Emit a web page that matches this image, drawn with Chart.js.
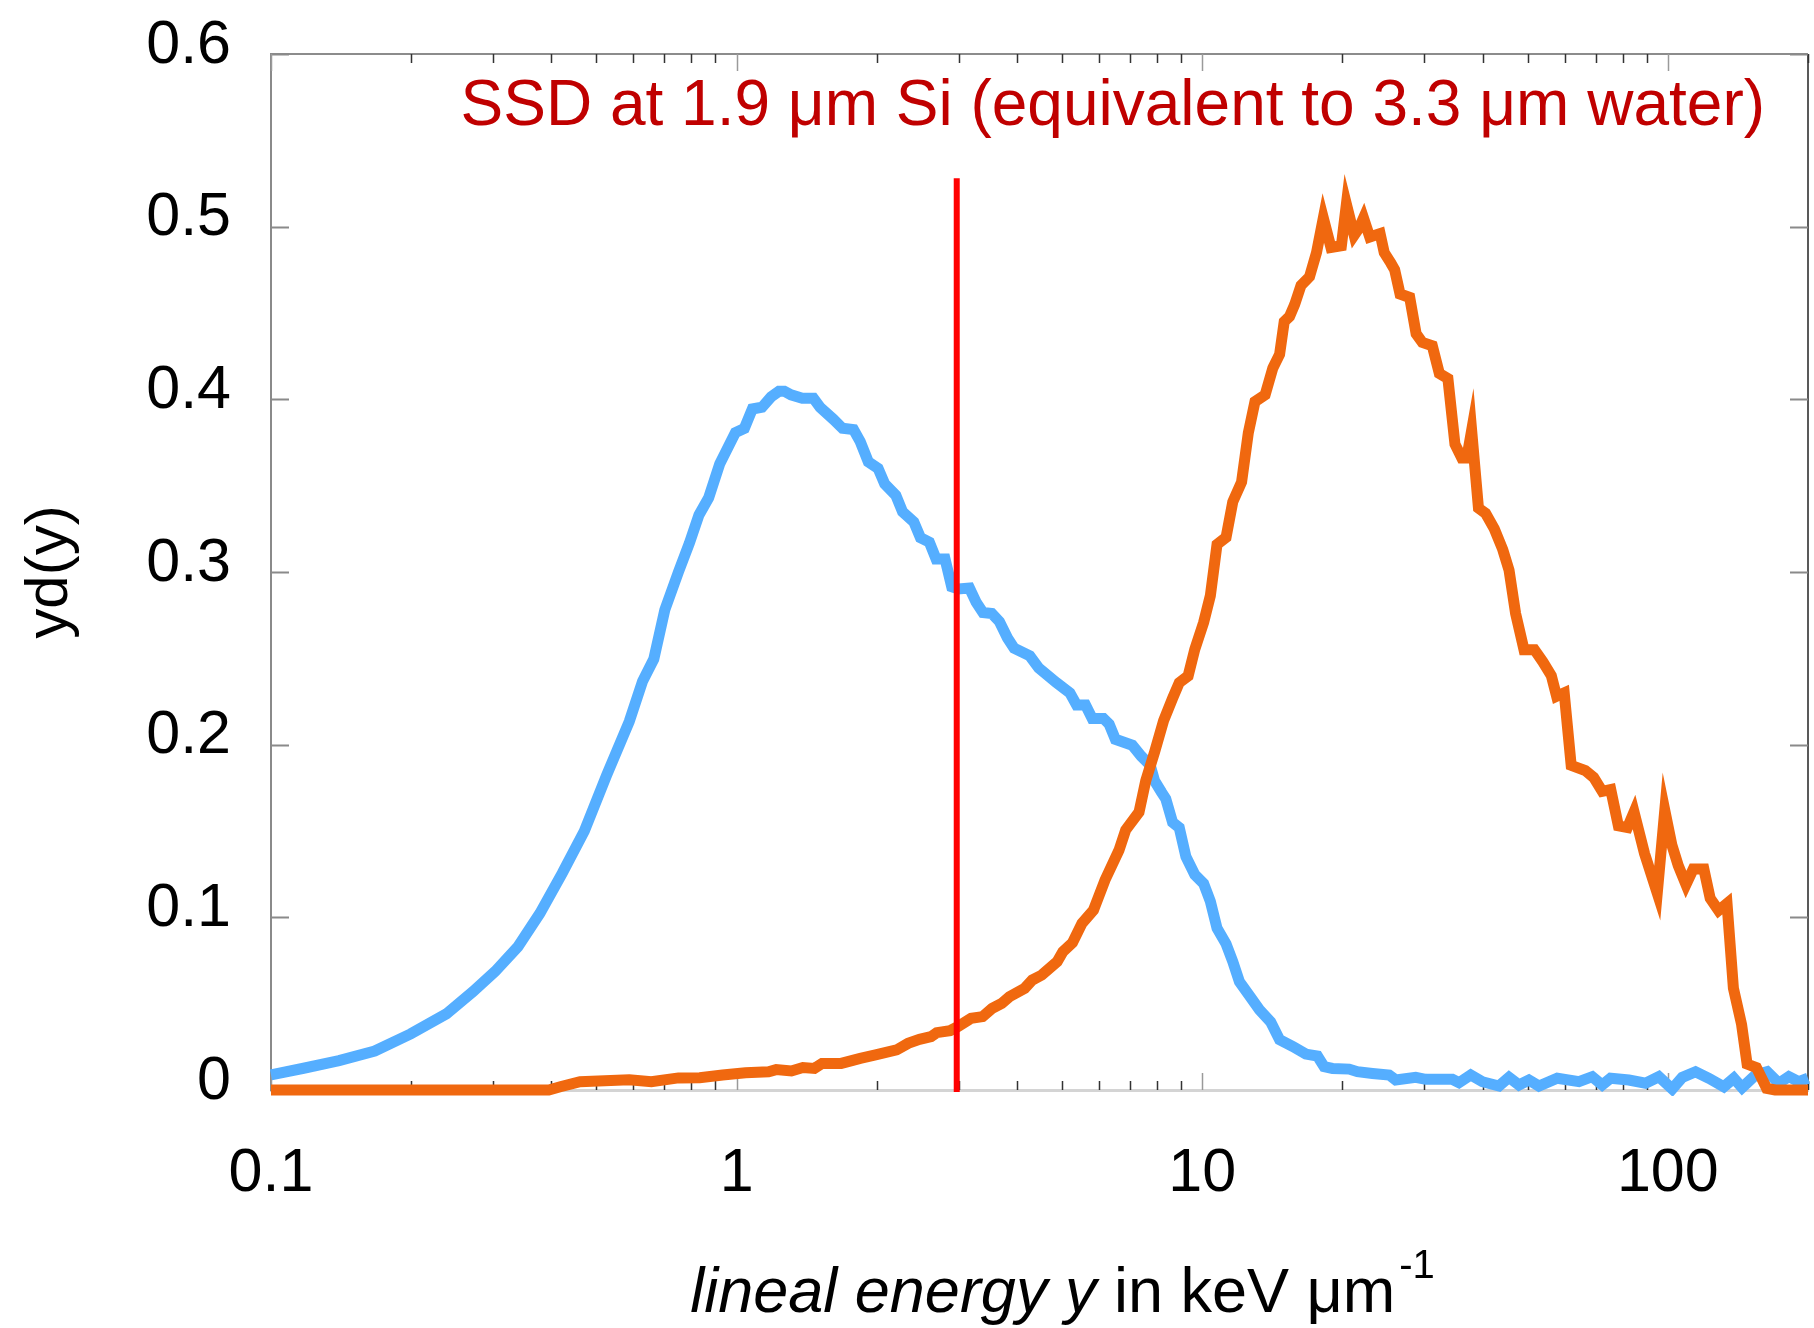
<!DOCTYPE html>
<html>
<head>
<meta charset="utf-8">
<title>yd(y) lineal energy spectra</title>
<script src="https://cdn.jsdelivr.net/npm/chart.js@4.4.1/dist/chart.umd.min.js"></script>
<style>
  html, body { margin: 0; padding: 0; background: #fff; }
  #wrap { width: 1814px; height: 1328px; }
</style>
</head>
<body>
<div id="wrap"><canvas id="sdChart" width="1814" height="1328"></canvas></div>
<script>
// Lineal energy y (keV/um) and yd(y)

// blue spectrum
const blueX = [0.1, 0.1175, 0.14, 0.167, 0.1995, 0.238, 0.2716, 0.303, 0.339, 0.378,
  0.422, 0.471, 0.526, 0.588, 0.628, 0.664, 0.701, 0.75, 0.792, 0.83,
  0.871, 0.92, 0.994, 1.039, 1.081, 1.134, 1.186, 1.233, 1.266, 1.309,
  1.384, 1.462, 1.511, 1.614, 1.688, 1.783, 1.843, 1.918, 2.013, 2.08,
  2.198, 2.272, 2.402, 2.482, 2.594, 2.682, 2.803, 2.897, 2.995, 3.163,
  3.27, 3.381, 3.533, 3.668, 3.817, 3.945, 4.263, 4.455, 4.864, 5.197,
  5.372, 5.615, 5.804, 6.134, 6.311, 6.509, 7.078, 7.398, 7.731, 7.903,
  8.17, 8.35, 8.635, 8.926, 9.225, 9.64, 10.07, 10.41, 10.76, 11.25,
  11.63, 12.02, 12.7, 13.27, 14.03, 14.66, 15.66, 16.69, 17.68, 18.27,
  19.05, 20.68, 21.54, 23.21, 25.2, 26.04, 28.74, 30.2, 34.45, 35.6,
  37.73, 39.97, 43.39, 45.59, 47.89, 50.31, 52.86, 57.88, 64.43, 68.82,
  72.29, 75.34, 82.48, 89.56, 95.65, 102.2, 107.4, 114.7, 122.5, 131.9,
  138.6, 144.4, 154.3, 163.4, 173.1, 181.9, 191.1, 200];
const blueY = [0.0087, 0.0126, 0.017, 0.0226, 0.0325, 0.0441, 0.057, 0.0687, 0.0829, 0.1023,
  0.1255, 0.150, 0.1824, 0.2134, 0.2367, 0.2496, 0.278, 0.300, 0.3168, 0.333,
  0.343, 0.3626, 0.3807, 0.3832, 0.3944, 0.3954, 0.4014, 0.4047, 0.4047, 0.4026,
  0.4006, 0.4006, 0.3954, 0.3884, 0.3832, 0.3825, 0.3755, 0.3638, 0.360, 0.351,
  0.3444, 0.3349, 0.329, 0.3199, 0.3173, 0.3075, 0.3075, 0.2915, 0.2902, 0.2907,
  0.2824, 0.2765, 0.276, 0.2713, 0.2618, 0.2558, 0.2514, 0.2444, 0.2359, 0.230,
  0.223, 0.223, 0.2152, 0.2152, 0.2119, 0.2031, 0.1997, 0.1933, 0.1881, 0.179,
  0.1726, 0.1687, 0.155, 0.1519, 0.1351, 0.1247, 0.1196, 0.1092, 0.0937, 0.0847,
  0.0744, 0.0627, 0.0537, 0.0465, 0.0394, 0.0291, 0.0252, 0.0208, 0.0197, 0.0135,
  0.0125, 0.0121, 0.0106, 0.0096, 0.0087, 0.0058, 0.0073, 0.0062, 0.0062, 0.0042,
  0.0087, 0.0048, 0.0023, 0.0073, 0.0029, 0.0058, 0.0023, 0.0068, 0.0048, 0.0077,
  0.0029, 0.0068, 0.0058, 0.0039, 0.0077, 0.0006, 0.0073, 0.0106, 0.0068, 0.0019,
  0.0068, 0.0014, 0.0087, 0.0106, 0.0039, 0.0077, 0.0048, 0.0068];

// orange spectrum
const orangeX = [0.1, 0.2, 0.3, 0.395, 0.42, 0.461, 0.588, 0.656, 0.75, 0.833,
  0.933, 1.045, 1.171, 1.216, 1.311, 1.388, 1.469, 1.526, 1.677, 1.843,
  1.988, 2.206, 2.335, 2.471, 2.615, 2.69, 2.874, 2.985, 3.189, 3.376,
  3.539, 3.71, 3.853, 4.156, 4.315, 4.524, 4.88, 5.02, 5.265, 5.518,
  5.841, 6.183, 6.626, 6.848, 7.316, 7.562, 7.903, 8.26, 8.635, 8.926,
  9.327, 9.64, 10.07, 10.41, 10.76, 11.25, 11.63, 12.15, 12.56, 12.98,
  13.65, 14.18, 14.66, 15.0, 15.4, 15.8, 16.3, 17.0, 17.6, 18.2,
  18.9, 19.9, 20.4, 21.2, 21.7, 22.2, 22.9, 24.1, 24.6, 25.4,
  25.9, 26.6, 27.9, 28.8, 29.7, 31.2, 32.3, 33.7, 34.9, 36.1,
  37.0, 37.9, 39.2, 40.6, 42.4, 44.2, 45.6, 47.1, 49.1, 51.7,
  53.9, 56.2, 57.7, 59.9, 62.0, 66.5, 69.3, 72.3, 75.4, 78.3,
  81.9, 84.6, 89.1, 94.9, 98.5, 102, 105.3, 109.4, 113.4, 119.5,
  123.3, 128.5, 134, 138.3, 144, 148, 155, 163, 170, 200];
const orangeY = [0, 0, 0, 0, 0.002, 0.0048, 0.0059, 0.0048, 0.007, 0.0071,
  0.0087, 0.010, 0.0106, 0.0118, 0.011, 0.013, 0.0125, 0.0154, 0.0154, 0.0183,
  0.0203, 0.0232, 0.027, 0.0293, 0.0309, 0.0332, 0.0344, 0.0367, 0.0415, 0.0425,
  0.0473, 0.0502, 0.054, 0.0589, 0.0637, 0.0666, 0.0743, 0.0801, 0.0853, 0.0965,
  0.1042, 0.1216, 0.1389, 0.1506, 0.1609, 0.179, 0.1958, 0.2139, 0.2268, 0.2359,
  0.2398, 0.2553, 0.2708, 0.2863, 0.316, 0.320, 0.3406, 0.3522, 0.3806, 0.3987,
  0.4026, 0.4181, 0.426, 0.445, 0.448, 0.455, 0.466, 0.471, 0.485, 0.505,
  0.488, 0.489, 0.513, 0.495, 0.499, 0.505, 0.494, 0.496, 0.485, 0.479,
  0.475, 0.461, 0.459, 0.438, 0.433, 0.431, 0.415, 0.412, 0.374, 0.366,
  0.366, 0.382, 0.337, 0.334, 0.325, 0.313, 0.301, 0.276, 0.255, 0.255,
  0.248, 0.240, 0.228, 0.230, 0.188, 0.185, 0.181, 0.173, 0.174, 0.153,
  0.152, 0.161, 0.137, 0.114, 0.162, 0.142, 0.130, 0.119, 0.128, 0.128,
  0.111, 0.104, 0.108, 0.059, 0.038, 0.015, 0.013, 0.001, 0, 0];

// SSD marker line
const ssdLineX = [2.97, 2.97];
const ssdLineY = [-0.0012, 0.528];

// axes
const xLabelTicks = [0.1, 1, 10, 100];
const xMinorTicks = [0.2, 0.3, 0.4, 0.5, 0.6, 0.7, 0.8, 0.9,
  2, 3, 4, 5, 6, 7, 8, 9, 20, 30, 40, 50, 60, 70, 80, 90, 200];
const yTicks = [0, 0.1, 0.2, 0.3, 0.4, 0.5, 0.6];

const annotationText = 'SSD at 1.9 μm Si (equivalent to 3.3 μm water)';
const FONT = '"Liberation Sans", Arial, sans-serif';

function toPoints(xs, ys) {
  return xs.map((x, i) => ({ x: x, y: ys[i] }));
}

// frame, inward tick marks and the texts drawn on the canvas
const frameAndTitles = {
  id: 'frameAndTitles',
  beforeDatasetsDraw(chart) {
    const { ctx, chartArea: a, scales: { x, y } } = chart;
    ctx.save();

    // top and right border
    ctx.lineWidth = 2;
    ctx.strokeStyle = '#8c8c8c';
    ctx.beginPath();
    ctx.moveTo(a.left, a.top);
    ctx.lineTo(a.right, a.top);
    ctx.stroke();
    ctx.strokeStyle = '#222';
    ctx.lineWidth = 1.5;
    ctx.beginPath();
    ctx.moveTo(a.right, a.top);
    ctx.lineTo(a.right, a.bottom);
    ctx.stroke();

    // y ticks, inside on both sides
    ctx.lineWidth = 2;
    ctx.strokeStyle = '#8a8a8a';
    yTicks.forEach(v => {
      const py = Math.round(y.getPixelForValue(v)) + 0.5;
      ctx.beginPath();
      ctx.moveTo(a.left, py);
      ctx.lineTo(a.left + 18, py);
      ctx.moveTo(a.right - 18, py);
      ctx.lineTo(a.right, py);
      ctx.stroke();
    });

    // x ticks, inside at bottom and top
    ctx.lineWidth = 1.5;
    xLabelTicks.concat(xMinorTicks).forEach(v => {
      const major = xLabelTicks.includes(v);
      const len = major ? 17 : 9;
      const px = Math.round(x.getPixelForValue(v)) + 0.5;
      ctx.strokeStyle = major ? '#9a9a9a' : '#333';
      ctx.beginPath();
      ctx.moveTo(px, a.bottom);
      ctx.lineTo(px, a.bottom - len);
      ctx.moveTo(px, a.top);
      ctx.lineTo(px, a.top + len);
      ctx.stroke();
    });
    ctx.restore();
  },
  afterDraw(chart) {
    const { ctx, chartArea: a } = chart;
    ctx.save();

    // annotation
    ctx.fillStyle = '#C00000';
    ctx.font = '64px ' + FONT;
    ctx.textAlign = 'right';
    ctx.textBaseline = 'alphabetic';
    ctx.fillText(annotationText, a.right - 43, a.top + 71);

    // x axis title: italic part, normal part, superscript
    ctx.fillStyle = '#000';
    ctx.textAlign = 'left';
    const partA = 'lineal energy y';
    const partB = ' in keV μm';
    const sup = '-1';
    const fontA = 'italic 63px ' + FONT;
    const fontB = '63px ' + FONT;
    const fontS = '40px ' + FONT;
    ctx.font = fontA;
    const wA = ctx.measureText(partA).width;
    ctx.font = fontB;
    const wB = ctx.measureText(partB).width;
    ctx.font = fontS;
    const wS = ctx.measureText(sup).width;
    const total = wA + wB + 4 + wS;
    const cx = (a.left + a.right) / 2 + 23;
    let sx = cx - total / 2;
    const base = a.bottom + 222;
    ctx.font = fontA;
    ctx.fillText(partA, sx, base);
    sx += wA;
    ctx.font = fontB;
    ctx.fillText(partB, sx, base);
    sx += wB + 4;
    ctx.font = fontS;
    ctx.fillText(sup, sx, base - 34);

    // y axis title
    ctx.translate(50, (a.top + a.bottom) / 2);
    ctx.rotate(-Math.PI / 2);
    ctx.font = '60px ' + FONT;
    ctx.textAlign = 'center';
    ctx.textBaseline = 'middle';
    ctx.fillText('yd(y)', 0, 0);
    ctx.restore();
  }
};

const ctx = document.getElementById('sdChart');

new Chart(ctx, {
  type: 'line',
  data: {
    datasets: [
      {
        label: 'SSD',
        data: toPoints(ssdLineX, ssdLineY),
        borderColor: '#FF0000',
        borderWidth: 6,
        pointRadius: 0,
        clip: false,
        order: 0
      },
      {
        label: 'orange',
        data: toPoints(orangeX, orangeY),
        borderColor: '#F0680F',
        borderWidth: 11,
        pointRadius: 0,
        tension: 0,
        clip: 6,
        order: 1
      },
      {
        label: 'blue',
        data: toPoints(blueX, blueY),
        borderColor: '#55AEFF',
        borderWidth: 11,
        pointRadius: 0,
        tension: 0,
        clip: 6,
        order: 2
      }
    ]
  },
  options: {
    responsive: false,
    animation: false,
    devicePixelRatio: 1,
    layout: {
      padding: { top: 54, right: 6, left: 0, bottom: 0 }
    },
    plugins: {
      legend: { display: false },
      tooltip: { enabled: false }
    },
    scales: {
      x: {
        type: 'logarithmic',
        min: 0.1,
        max: 200,
        grid: { display: false, drawTicks: false },
        border: { display: true, color: '#d4d4d4', width: 3 },
        afterBuildTicks: (scale) => {
          scale.ticks = xLabelTicks.map(v => ({ value: v }));
        },
        afterFit: (scale) => {
          scale.height = 238;
          scale.paddingLeft = 0;
          scale.paddingRight = 0;
        },
        ticks: {
          autoSkip: false,
          maxRotation: 0,
          padding: 48,
          color: '#000',
          font: { family: FONT, size: 61 },
          callback: (v) => String(v)
        }
      },
      y: {
        min: 0,
        max: 0.6,
        grid: { display: false, drawTicks: false },
        border: { display: true, color: '#8a8a8a', width: 2 },
        afterFit: (scale) => {
          scale.width = 271;
          scale.paddingTop = 0;
          scale.paddingBottom = 0;
        },
        ticks: {
          stepSize: 0.1,
          padding: 40,
          labelOffset: -8,
          color: '#000',
          font: { family: FONT, size: 61 },
          callback: (v) => (v === 0 ? '0' : v.toFixed(1))
        }
      }
    }
  },
  plugins: [frameAndTitles]
});
</script>
</body>
</html>
